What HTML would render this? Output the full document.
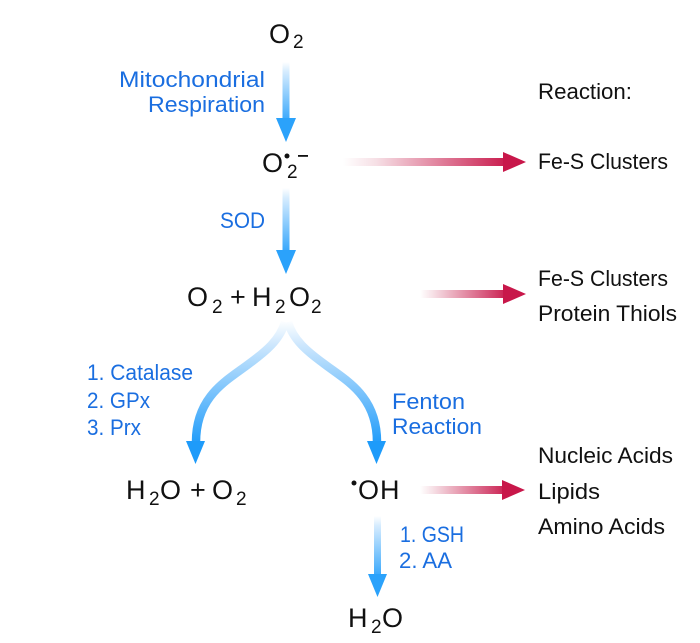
<!DOCTYPE html>
<html><head><meta charset="utf-8"><style>
html,body{margin:0;padding:0;background:#fff;width:700px;height:643px;overflow:hidden}
svg{display:block}
text{font-family:"Liberation Sans",sans-serif}
.k{fill:#111;font-size:27px}
.s{fill:#111;font-size:19px}
.r{fill:#111;font-size:22px}
.b{fill:#1a6ee0;font-size:22px}
</style></head><body>
<svg width="700" height="643" viewBox="0 0 700 643" xmlns="http://www.w3.org/2000/svg">
<defs>
<linearGradient id="g1" gradientUnits="userSpaceOnUse" x1="0" y1="62" x2="0" y2="125"><stop offset="0" stop-color="#fff"/><stop offset="0.15" stop-color="#d6ecfe"/><stop offset="1" stop-color="#2ba2fb"/></linearGradient>
<linearGradient id="g2" gradientUnits="userSpaceOnUse" x1="0" y1="188" x2="0" y2="255"><stop offset="0" stop-color="#fff"/><stop offset="0.15" stop-color="#d6ecfe"/><stop offset="1" stop-color="#2ba2fb"/></linearGradient>
<linearGradient id="g3" gradientUnits="userSpaceOnUse" x1="0" y1="320" x2="0" y2="445"><stop offset="0" stop-color="#fff"/><stop offset="0.2" stop-color="#cde7fd"/><stop offset="1" stop-color="#1e9bfa"/></linearGradient>
<linearGradient id="g4" gradientUnits="userSpaceOnUse" x1="0" y1="516" x2="0" y2="580"><stop offset="0" stop-color="#fff"/><stop offset="0.15" stop-color="#d6ecfe"/><stop offset="1" stop-color="#2ba2fb"/></linearGradient>
<linearGradient id="r1" gradientUnits="userSpaceOnUse" x1="343" y1="0" x2="510" y2="0"><stop offset="0" stop-color="#fff"/><stop offset="0.2" stop-color="#f6dfe5"/><stop offset="1" stop-color="#c8174a"/></linearGradient>
<linearGradient id="r2" gradientUnits="userSpaceOnUse" x1="420" y1="0" x2="510" y2="0"><stop offset="0" stop-color="#fff"/><stop offset="0.15" stop-color="#f6dfe5"/><stop offset="1" stop-color="#c8174a"/></linearGradient>
</defs>

<!-- blue arrows -->
<rect x="282.500" y="62" width="7" height="57" fill="url(#g1)"/>
<polygon points="276,118 296,118 286,142" fill="#2ba2fb"/>
<rect x="282.500" y="188" width="7" height="63" fill="url(#g2)"/>
<polygon points="276,250 296,250 286,274" fill="#2ba2fb"/>
<path d="M285,322 C280,340 265,352 250,363 C228,380 196,395 196,442" fill="none" stroke="url(#g3)" stroke-width="8.500"/>
<polygon points="186,441 205,441 195.500,464" fill="#1e9bfa"/>
<path d="M288,322 C293,340 308,352 323,363 C345,380 377,395 377,442" fill="none" stroke="url(#g3)" stroke-width="8.500"/>
<polygon points="367,441 386,441 376.500,464" fill="#1e9bfa"/>
<rect x="374" y="516" width="7" height="59" fill="url(#g4)"/>
<polygon points="368,574 387,574 377.500,597" fill="#2ba2fb"/>

<!-- red arrows -->
<rect x="343" y="158" width="161" height="8" fill="url(#r1)"/>
<polygon points="503,152 503,172 526,162" fill="#c8174a"/>
<rect x="420" y="290" width="84" height="8" fill="url(#r2)"/>
<polygon points="503,284 503,304 526,294" fill="#c8174a"/>
<rect x="420" y="486" width="84" height="8" fill="url(#r2)"/>
<polygon points="502,480 502,500 525,490" fill="#c8174a"/>

<!-- chemistry -->
<text class="k" x="269" y="43">O</text><text class="s" x="293" y="48">2</text>

<text class="k" x="262" y="172">O</text><text class="s" x="287" y="178">2</text>
<circle cx="287" cy="156" r="2.500" fill="#111"/>
<rect x="298" y="155" width="10" height="1.800" fill="#111"/>

<text class="k" x="187" y="306">O</text><text class="s" x="212" y="313">2</text>
<text class="k" x="230" y="306">+</text>
<text class="k" x="252" y="306">H</text><text class="s" x="275" y="313">2</text>
<text class="k" x="289" y="306">O</text><text class="s" x="311" y="313">2</text>

<text class="k" x="126" y="499">H</text><text class="s" x="149" y="505">2</text>
<text class="k" x="160" y="499">O</text>
<text class="k" x="190" y="499">+</text>
<text class="k" x="212" y="499">O</text><text class="s" x="236" y="505">2</text>

<circle cx="354" cy="483" r="2.500" fill="#111"/>
<text class="k" x="358" y="499">O</text><text class="k" x="380" y="499">H</text>

<text class="k" x="348" y="627">H</text><text class="s" x="371" y="633">2</text>
<text class="k" x="382" y="627">O</text>

<!-- blue labels -->
<text class="b" x="119" y="87" textLength="146" lengthAdjust="spacingAndGlyphs">Mitochondrial</text>
<text class="b" x="148" y="112" textLength="117" lengthAdjust="spacingAndGlyphs">Respiration</text>
<text class="b" x="220" y="228" textLength="45" lengthAdjust="spacingAndGlyphs">SOD</text>
<text class="b" x="87" y="380" textLength="106" lengthAdjust="spacingAndGlyphs">1. Catalase</text>
<text class="b" x="87" y="408" textLength="63" lengthAdjust="spacingAndGlyphs">2. GPx</text>
<text class="b" x="87" y="435" textLength="54" lengthAdjust="spacingAndGlyphs">3. Prx</text>
<text class="b" x="392" y="409" textLength="73" lengthAdjust="spacingAndGlyphs">Fenton</text>
<text class="b" x="392" y="434" textLength="90" lengthAdjust="spacingAndGlyphs">Reaction</text>
<text class="b" x="400" y="542" textLength="64" lengthAdjust="spacingAndGlyphs">1. GSH</text>
<text class="b" x="399" y="568" textLength="53" lengthAdjust="spacingAndGlyphs">2. AA</text>

<!-- right labels -->
<text class="r" x="538" y="99" textLength="94" lengthAdjust="spacingAndGlyphs">Reaction:</text>
<text class="r" x="538" y="169" textLength="130" lengthAdjust="spacingAndGlyphs">Fe-S Clusters</text>
<text class="r" x="538" y="286" textLength="130" lengthAdjust="spacingAndGlyphs">Fe-S Clusters</text>
<text class="r" x="538" y="321" textLength="139" lengthAdjust="spacingAndGlyphs">Protein Thiols</text>
<text class="r" x="538" y="463" textLength="135" lengthAdjust="spacingAndGlyphs">Nucleic Acids</text>
<text class="r" x="538" y="499" textLength="62" lengthAdjust="spacingAndGlyphs">Lipids</text>
<text class="r" x="538" y="534" textLength="127" lengthAdjust="spacingAndGlyphs">Amino Acids</text>
</svg>
</body></html>
